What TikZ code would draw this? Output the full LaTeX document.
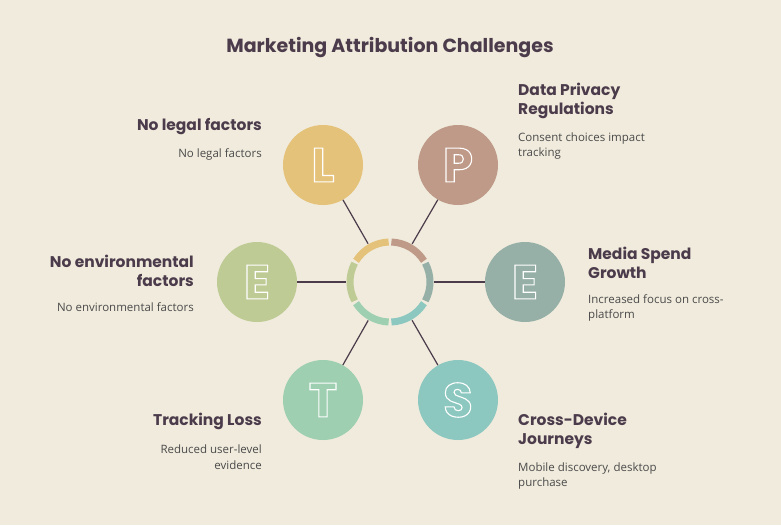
\documentclass[tikz,border=0pt]{standalone}
\usepackage{fontspec}
\setmainfont{Open Sans}
\newfontfamily\headfont{Poppins}
\usetikzlibrary{positioning,calc}
\definecolor{bgcol}{HTML}{F0EBDC}
\definecolor{ink}{HTML}{4B3B4B}
\definecolor{txt}{HTML}{4A4A4A}
\definecolor{cL}{HTML}{E5C27A}
\definecolor{cP}{HTML}{BF9A88}
\definecolor{cEr}{HTML}{96B0A8}
\definecolor{cS}{HTML}{8DC8C0}
\definecolor{cT}{HTML}{9DCFB0}
\definecolor{cEl}{HTML}{BFCB95}
\newcommand{\outl}[1]{\special{pdf:code 1 Tr 1.1 w 1 1 1 RG}#1\special{pdf:code 0 Tr}}
\tikzset{
  factor/.style={circle, minimum size=80pt, inner sep=0pt, text=white,
    font=\headfont\bfseries\fontsize{48}{48}\selectfont},
  link/.style={draw=ink, line width=1.2pt},
  seg/.style={line width=7pt},
  head/.style={font=\headfont\bfseries\fontsize{15.5}{19.5}\selectfont, text=ink, inner sep=0pt},
  note/.style={font=\fontsize{11.5}{15.5}\selectfont, text=txt, inner sep=0pt}
}
\begin{document}
\begin{tikzpicture}[x=1pt, y=-1pt]
  \fill[bgcol] (0,0) rectangle (781,525);
  \useasboundingbox (0,0) rectangle (781,525);

  % Title
  \node[head, font=\headfont\bfseries\fontsize{19}{22}\selectfont] (title) at (390,48) {Marketing Attribution Challenges};

  % Hub ring
  \coordinate (c) at (390,282);
  \node[circle, minimum size=88pt, inner sep=0pt] (hub) at (c) {};
  \foreach \a/\col in {120/cL, 60/cP, 0/cEr, -60/cS, -120/cT, 180/cEl}
    \draw[seg, \col] ($(c)+(-\a-28:40)$) arc[start angle=-\a-28, end angle=-\a+28, radius=40];

  % Factor circles
  \node[factor, fill=cL] (L) at (323,165) {\outl{L}};
  \node[factor, fill=cP] (P) at (458,165) {\outl{P}};
  \node[factor, fill=cEl] (El) at (257,282) {\outl{E}};
  \node[factor, fill=cEr] (Er) at (525,282) {\outl{E}};
  \node[factor, fill=cT] (T) at (323,400) {\outl{T}};
  \node[factor, fill=cS] (S) at (458,400) {\outl{S}};

  % Links
  \foreach \n in {L, P, El, Er, T, S}
    \draw[link] (hub) -- (\n);

  % Labels left
  \node[head, anchor=east, align=right] (Lh) at (262,127) {No legal factors};
  \node[note, anchor=east, align=right] (Ln) at (262,154) {No legal factors};
  \node[head, anchor=east, align=right] (Elh) at (194,271) {No environmental\\factors};
  \node[note, anchor=east, align=right] (Eln) at (194,307) {No environmental factors};
  \node[head, anchor=east, align=right] (Th) at (262,421) {Tracking Loss};
  \node[note, anchor=east, align=right] (Tn) at (262,457) {Reduced user-level\\evidence};

  % Labels right
  \node[head, anchor=west, align=left] (Ph) at (518,101) {Data Privacy\\Regulations};
  \node[note, anchor=west, align=left] (Pn) at (518,146) {Consent choices impact\\tracking};
  \node[head, anchor=west, align=left] (Erh) at (588,263) {Media Spend\\Growth};
  \node[note, anchor=west, align=left] (Ern) at (588,308) {Increased focus on cross-\\platform};
  \node[head, anchor=west, align=left] (Sh) at (518,431) {Cross-Device\\Journeys};
  \node[note, anchor=west, align=left] (Sn) at (518,476) {Mobile discovery, desktop\\purchase};
\end{tikzpicture}
\end{document}
